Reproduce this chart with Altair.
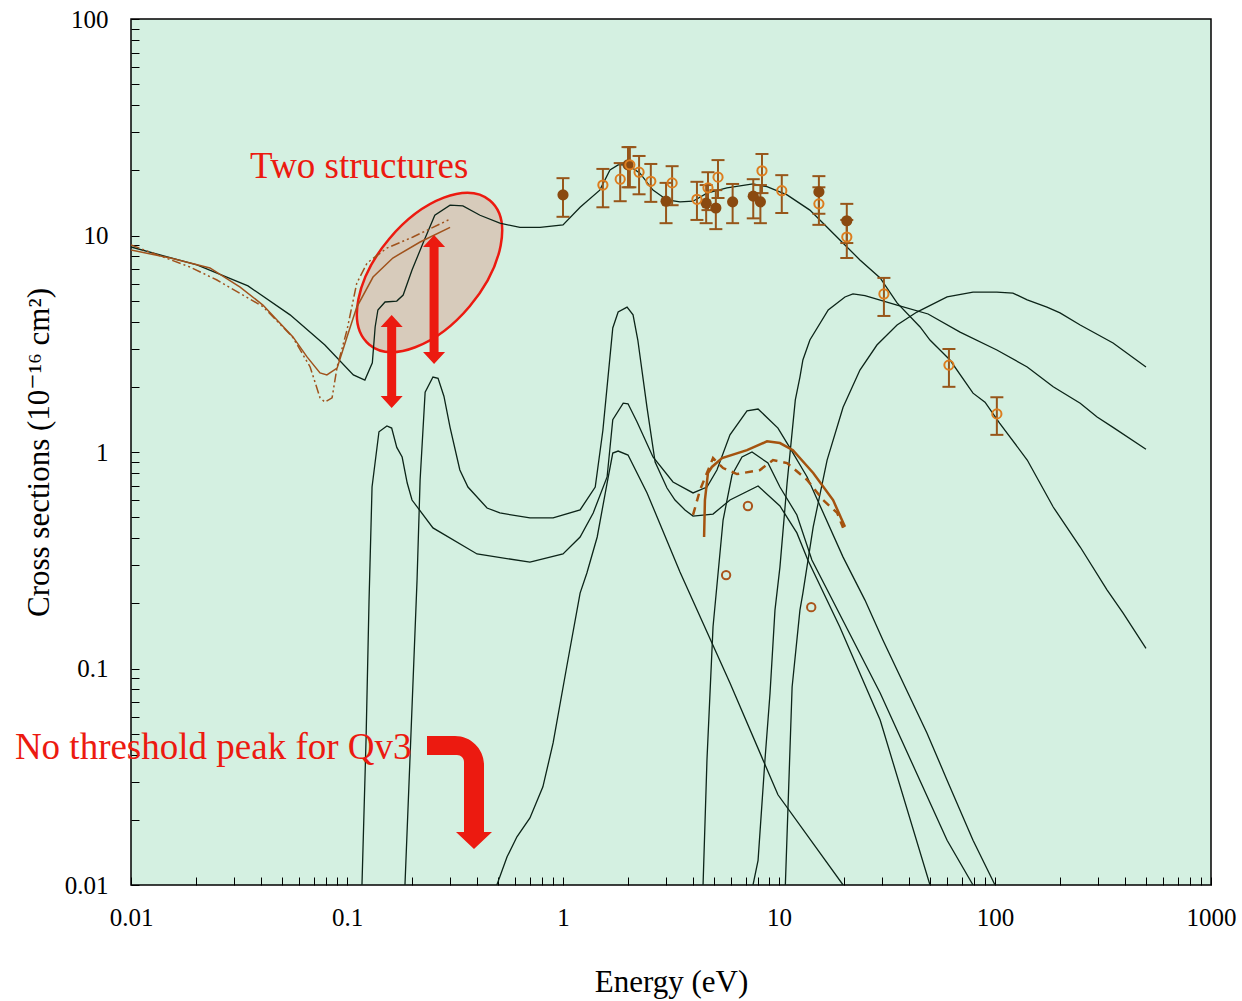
import altair as alt
import pandas as pd

# ---- calculated cross sections (energy in eV, sigma in 1e-16 cm^2) ----
total_e = [0.01, 0.0202, 0.0348, 0.0545, 0.079, 0.107, 0.121, 0.131, 0.135, 0.139,
           0.150, 0.170, 0.182, 0.200, 0.225, 0.255, 0.300, 0.344, 0.413, 0.510,
           0.632, 0.783, 1.0, 1.2, 1.48, 1.65, 1.80, 2.0, 2.27, 2.61,
           3.03, 3.48, 4.0, 4.64, 5.74, 7.58, 8.80, 10.9, 13.9, 17.2,
           23.7, 29.4, 35.2, 45.0, 50.0, 61.9, 79.1, 89.9, 105, 141,
           186, 248, 330, 392, 500]
total_s = [8.85, 7.31, 5.85, 4.30, 3.12, 2.27, 2.15, 2.58, 3.78, 4.53,
           4.93, 4.98, 5.31, 6.93, 9.23, 12.4, 13.8, 13.7, 12.4, 11.4,
           10.9, 10.9, 11.2, 13.5, 16.2, 20.1, 21.2, 21.2, 19.4, 16.2,
           14.6, 14.3, 14.4, 15.7, 16.6, 17.3, 16.8, 15.4, 13.1, 10.6,
           7.71, 6.37, 4.88, 3.78, 3.29, 2.66, 1.87, 1.70, 1.36, 0.918,
           0.557, 0.364, 0.231, 0.180, 0.124]

qv1_e = [0.1173, 0.1225, 0.1265, 0.1306, 0.1406, 0.153, 0.161, 0.170, 0.180, 0.190,
         0.200, 0.250, 0.400, 0.703, 1.0, 1.20, 1.38, 1.60, 1.70, 1.90,
         2.0, 2.20, 2.61, 3.23, 4.0, 4.64, 5.16, 5.93, 7.11, 8.0,
         9.89, 11.2, 13.5, 19.8, 25.0, 30.3, 48.4, 60.0, 79.1, 100]
qv1_s = [0.01, 0.0468, 0.207, 0.689, 1.24, 1.32, 1.29, 1.05, 0.948, 0.719,
         0.600, 0.446, 0.338, 0.310, 0.338, 0.405, 0.523, 0.767, 1.41, 1.68,
         1.67, 1.38, 0.948, 0.727, 0.647, 0.689, 0.826, 1.20, 1.55, 1.58,
         1.29, 1.05, 0.767, 0.327, 0.207, 0.135, 0.0504, 0.0305, 0.0161, 0.01]

qv2_e = [0.1855, 0.198, 0.211, 0.218, 0.230, 0.250, 0.264, 0.281, 0.300, 0.333,
         0.363, 0.445, 0.510, 0.703, 0.900, 1.20, 1.41, 1.53, 1.70, 1.80,
         1.98, 2.11, 2.22, 2.45, 2.67, 3.03, 3.30, 3.67, 4.0, 4.95,
         5.93, 8.0, 10.1, 12.1, 13.6, 19.1, 29.4, 50.0]
qv2_s = [0.01, 0.0514, 0.256, 0.743, 1.89, 2.22, 2.19, 1.81, 1.30, 0.826,
         0.689, 0.551, 0.523, 0.496, 0.496, 0.540, 0.689, 1.26, 3.74, 4.43,
         4.67, 4.30, 3.29, 1.60, 0.899, 0.682, 0.600, 0.540, 0.506, 0.517,
         0.600, 0.697, 0.563, 0.423, 0.317, 0.156, 0.0578, 0.01]

qv3_e = [0.494, 0.551, 0.612, 0.703, 0.807, 0.900, 1.04, 1.20, 1.29, 1.44,
         1.60, 1.70, 1.80, 2.0, 2.45, 3.48, 5.93, 9.89, 19.8]
qv3_s = [0.01, 0.0135, 0.0167, 0.0204, 0.0284, 0.0453, 0.1016, 0.223, 0.276, 0.405,
         0.719, 0.989, 1.01, 0.968, 0.647, 0.279, 0.0857, 0.0261, 0.01]

exc_e = [4.45, 4.64, 4.95, 5.51, 6.06, 6.74, 7.50, 8.89, 10.1, 12.1, 14.2, 29.4, 60.0, 79.1]
exc_s = [0.01, 0.0378, 0.156, 0.485, 0.783, 0.948, 1.0, 0.889, 0.689, 0.512, 0.317, 0.0771, 0.0161, 0.01]

diss_e = [7.58, 8.0, 8.61, 9.09, 9.58, 10.1, 10.9, 11.9, 12.5, 12.9,
          13.9, 16.9, 20.2, 22.0, 25.0, 35.2, 49.0, 68.9, 102, 141,
          186, 248, 297, 352, 500]
diss_s = [0.01, 0.013, 0.0378, 0.0771, 0.186, 0.294, 0.719, 1.74, 2.22, 2.66,
          3.29, 4.53, 5.20, 5.37, 5.27, 4.77, 4.34, 3.58, 2.96, 2.47,
          2.0, 1.68, 1.45, 1.30, 1.03]

ion_e = [10.7, 11.5, 12.5, 12.9, 14.4, 16.7, 19.8, 23.7, 28.4, 35.2,
         43.5, 60.0, 79.1, 102, 121, 141, 174, 200, 248, 352, 500]
ion_s = [0.01, 0.0822, 0.186, 0.223, 0.451, 0.918, 1.61, 2.39, 3.12, 3.86,
         4.43, 5.20, 5.48, 5.48, 5.42, 5.04, 4.67, 4.39, 3.86, 3.19, 2.47]

# ---- reference curves (brown) ----
ref_mt_e = [0.01, 0.0152, 0.0232, 0.032, 0.0408, 0.0562, 0.0653, 0.075, 0.0807, 0.090,
            0.1, 0.111, 0.132, 0.163, 0.218, 0.300]
ref_mt_s = [8.57, 7.87, 7.08, 5.78, 4.77, 3.40, 2.75, 2.32, 2.27, 2.44,
            3.40, 4.67, 6.43, 7.87, 9.33, 10.9]

ref_el_e = [0.01, 0.01875, 0.025, 0.0408, 0.0562, 0.0675, 0.075, 0.079, 0.0853, 0.090,
            0.1, 0.111, 0.124, 0.153, 0.202, 0.300]
ref_el_s = [9.04, 7.15, 6.23, 4.70, 3.38, 2.47, 1.78, 1.70, 1.78, 2.47,
            3.66, 6.03, 7.47, 8.75, 9.84, 11.9]

ref_a_e = [4.50, 4.54, 4.69, 4.89, 5.45, 7.11, 8.80, 10.1, 11.6, 14.4, 17.8, 20.2]
ref_a_s = [0.405, 0.600, 0.800, 0.853, 0.938, 1.02, 1.12, 1.10, 1.02, 0.800, 0.600, 0.451]

ref_b_e = [4.0, 4.31, 4.95, 5.51, 6.39, 8.17, 9.38, 10.9, 13.5, 16.0, 18.6, 19.8]
ref_b_s = [0.512, 0.668, 0.938, 0.843, 0.791, 0.826, 0.918, 0.889, 0.743, 0.600, 0.523, 0.446]

# ---- measured total cross sections with error bars ----
meas1_e = [1.0, 2.0, 3.0, 4.6, 5.1, 6.1, 7.6, 8.2, 15.3, 20.6]
meas1_s = [15.4, 21.2, 14.4, 14.1, 13.4, 14.3, 15.2, 14.3, 15.9, 11.7]
meas1_lo = [12.2, 16.7, 11.4, 11.4, 10.7, 11.4, 12.0, 11.4, 12.6, 9.23]
meas1_hi = [18.4, 25.6, 17.5, 17.1, 16.2, 17.3, 18.2, 17.1, 18.8, 14.0]

meas2_e = [1.53, 1.84, 2.04, 2.25, 2.55, 3.20, 4.17, 4.69, 5.22, 8.34,
           10.3, 15.3, 20.6, 30.6, 61.2, 102]
meas2_s = [17.1, 18.2, 21.2, 19.6, 17.8, 17.5, 14.7, 16.6, 18.6, 19.9,
           16.1, 14.0, 9.84, 5.37, 2.52, 1.50]
meas2_lo = [13.5, 14.4, 16.7, 15.5, 14.3, 13.8, 11.8, 13.1, 14.9, 15.7,
            12.7, 11.2, 7.87, 4.25, 2.0, 1.20]
meas2_hi = [20.3, 21.6, 25.6, 23.3, 21.4, 20.9, 17.7, 19.6, 22.3, 23.8,
            19.0, 16.7, 11.8, 6.37, 2.99, 1.79]

# single measured points without error bars
meas3_e = [5.69, 7.18, 14.1]
meas3_s = [0.270, 0.563, 0.192]

# ---- annotations ----
note_text = ["Two structures", "No threshold peak for Qv3"]
note_e = [0.0356, 0.0029]
note_s = [20.7, 0.0429]

SERIF = "Liberation Serif, DejaVu Serif, serif"
INK = "#0c2418"
RED = "#ec1a10"
Y_TITLE = "Cross sections (10\u207b\u00b9\u2076 cm\u00b2)"


def frame(name, e, s):
    return pd.DataFrame({"curve": name, "energy": e, "sigma": s,
                         "seq": list(range(len(e)))})


x_ticks = [m * 10.0 ** p for p in range(-2, 3) for m in range(1, 10)] + [1000.0]
y_ticks = [m * 10.0 ** p for p in range(-2, 2) for m in range(1, 10)] + [100.0]
decade_only = ("abs(log(datum.value) / LN10 - round(log(datum.value) / LN10)) < 1e-6"
               " ? format(datum.value, '~g') : ''")

x_scale = alt.Scale(type="log", domain=[0.01, 1000])
y_scale = alt.Scale(type="log", domain=[0.01, 100])

axis_common = dict(offset=-8, tickSize=8, tickWidth=1, tickColor="black",
                   domain=False, grid=False, labelFont=SERIF, labelFontSize=25,
                   labelColor="black", labelOverlap=False, labelFlush=False,
                   labelExpr=decade_only, titleFont=SERIF, titleFontSize=31,
                   titleFontWeight="normal", titleColor="black")
x_axis = alt.Axis(values=x_ticks, labelPadding=20, titlePadding=37, **axis_common)
y_axis = alt.Axis(values=y_ticks, labelPadding=23, titlePadding=9, **axis_common)


def X(field="energy"):
    return alt.X(f"{field}:Q", scale=x_scale, axis=x_axis, title="Energy (eV)")


def Y(field="sigma"):
    return alt.Y(f"{field}:Q", scale=y_scale, axis=y_axis, title=Y_TITLE)


# ellipse highlighting the two low-energy structures
ellipse_path = "M -94 0 A 94 52.5 0 1 1 94 0 A 94 52.5 0 1 1 -94 0 Z"
ellipse = alt.Chart(pd.DataFrame({"energy": [0.241], "sigma": [6.75]})).mark_point(
    shape=ellipse_path, size=4, angle=310, filled=True, fill="#d7cbbb",
    stroke=RED, strokeWidth=2.5, opacity=1, fillOpacity=1, strokeOpacity=1
).encode(x=X(), y=Y())

black_df = pd.concat([
    frame("total", total_e, total_s), frame("qv1", qv1_e, qv1_s),
    frame("qv2", qv2_e, qv2_s), frame("qv3", qv3_e, qv3_s),
    frame("exc", exc_e, exc_s), frame("diss", diss_e, diss_s),
    frame("ion", ion_e, ion_s)])
black = alt.Chart(black_df).mark_line(color=INK, strokeWidth=1.3, clip=True).encode(
    x=X(), y=Y(), detail="curve:N", order="seq:Q")

ref_mt = alt.Chart(frame("mt", ref_mt_e, ref_mt_s)).mark_line(
    color="#a0521c", strokeWidth=1.5, clip=True).encode(x=X(), y=Y(), order="seq:Q")
ref_el = alt.Chart(frame("el", ref_el_e, ref_el_s)).mark_line(
    color="#a0521c", strokeWidth=1.5, strokeDash=[9, 3, 2, 3, 2, 3], clip=True
).encode(x=X(), y=Y(), order="seq:Q")
ref_a = alt.Chart(frame("a", ref_a_e, ref_a_s)).mark_line(
    color="#a4530f", strokeWidth=2.5, clip=True).encode(x=X(), y=Y(), order="seq:Q")
ref_b = alt.Chart(frame("b", ref_b_e, ref_b_s)).mark_line(
    color="#a4530f", strokeWidth=2.5, strokeDash=[8, 6], clip=True
).encode(x=X(), y=Y(), order="seq:Q")

meas_df = pd.concat([
    pd.DataFrame({"energy": meas1_e, "sigma": meas1_s, "lo": meas1_lo, "hi": meas1_hi, "set": "a"}),
    pd.DataFrame({"energy": meas2_e, "sigma": meas2_s, "lo": meas2_lo, "hi": meas2_hi, "set": "b"})])
bar_color = "#97561a"
bars = alt.Chart(meas_df).mark_rule(color=bar_color, strokeWidth=2).encode(
    x=X(), y=Y("lo"), y2=alt.Y2("hi:Q"))
caps_lo = alt.Chart(meas_df).mark_tick(color=bar_color, orient="horizontal", size=13,
                                       thickness=2, opacity=1).encode(x=X(), y=Y("lo"))
caps_hi = alt.Chart(meas_df).mark_tick(color=bar_color, orient="horizontal", size=13,
                                       thickness=2, opacity=1).encode(x=X(), y=Y("hi"))

filled_pts = alt.Chart(pd.DataFrame({"energy": meas1_e, "sigma": meas1_s})).mark_circle(
    color="#8a4a10", size=125, opacity=1).encode(x=X(), y=Y())
open_pts = alt.Chart(pd.DataFrame({"energy": meas2_e, "sigma": meas2_s})).mark_point(
    shape="circle", filled=False, color="#dc7d1e", size=85, strokeWidth=2, opacity=1
).encode(x=X(), y=Y())
single_pts = alt.Chart(pd.DataFrame({"energy": meas3_e, "sigma": meas3_s})).mark_point(
    shape="circle", filled=False, color="#a9541a", size=70, strokeWidth=2, opacity=1
).encode(x=X(), y=Y())

# red double-headed arrows marking the two structures (shapes in pixel units)
arrow_short = ("M 0 -46.5 L 11 -34.5 L 4.5 -34.5 L 4.5 34.5 L 11 34.5 L 0 46.5 "
               "L -11 34.5 L -4.5 34.5 L -4.5 -34.5 L -11 -34.5 Z")
arrow_long = ("M 0 -64.5 L 11 -52.5 L 4.5 -52.5 L 4.5 52.5 L 11 52.5 L 0 64.5 "
              "L -11 52.5 L -4.5 52.5 L -4.5 -52.5 L -11 -52.5 Z")
bent_arrow = ("M -32 -56 L -4 -56 A 29 29 0 0 1 25 -27 L 25 40 L 33 40 L 15 57 "
              "L -3 40 L 5 40 L 5 -30 A 7 7 0 0 0 -2 -37 L -32 -37 Z")


def red_shape(path, e, s):
    return alt.Chart(pd.DataFrame({"energy": [e], "sigma": [s]})).mark_point(
        shape=path, size=4, filled=True, fill=RED, strokeWidth=0, opacity=1
    ).encode(x=X(), y=Y())


arrows = [red_shape(arrow_short, 0.161, 2.62),
          red_shape(arrow_long, 0.253, 5.06),
          red_shape(bent_arrow, 0.330, 0.0269)]

notes = alt.Chart(pd.DataFrame({"energy": note_e, "sigma": note_s, "label": note_text})).mark_text(
    align="left", baseline="middle", font=SERIF, fontSize=37, color=RED, clip=False
).encode(x=X(), y=Y(), text="label:N")

chart = alt.layer(
    ellipse, black, ref_mt, ref_el, ref_a, ref_b, bars, caps_lo, caps_hi,
    filled_pts, open_pts, single_pts, *arrows, notes
).properties(
    width=1080, height=866, autosize="none",
    padding={"left": 131, "top": 19, "right": 31, "bottom": 116}
).configure_view(fill="#d4f0e1", stroke="black", strokeWidth=1.5)

chart.save("out.html", embed_options={"renderer": "svg", "actions": False})
